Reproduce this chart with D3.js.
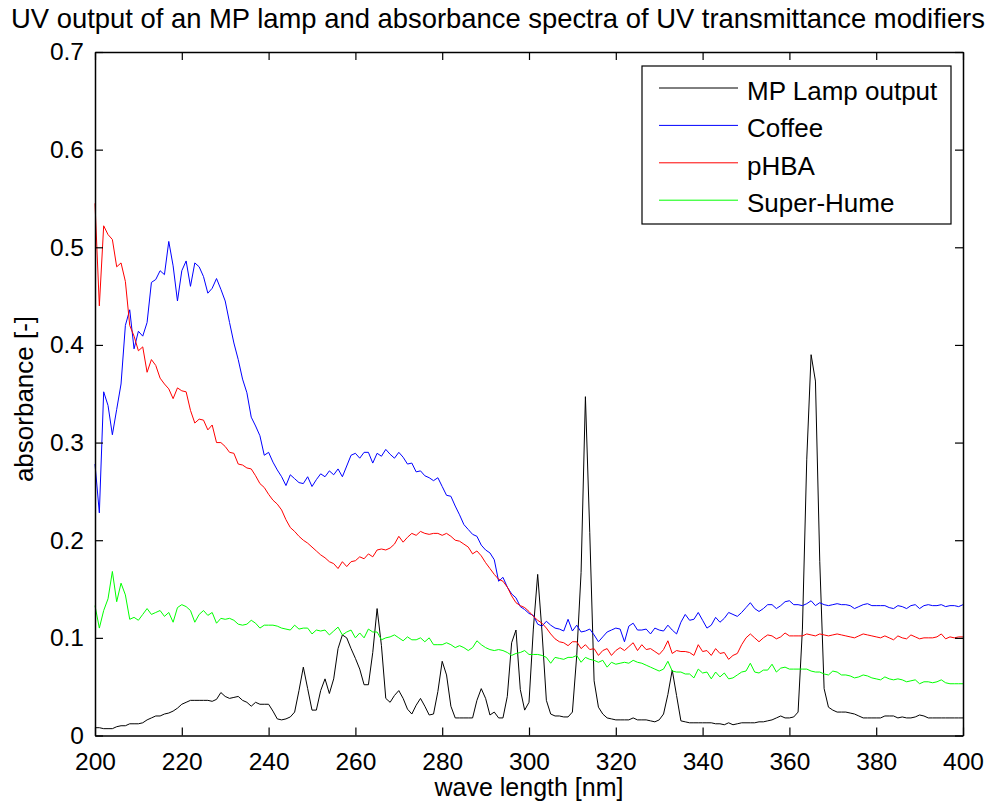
<!DOCTYPE html>
<html>
<head>
<meta charset="utf-8">
<script src="https://cdn.jsdelivr.net/npm/d3@7"></script>
<style>
  body { margin: 0; background: #fff; }
  text { font-family: "Liberation Sans", Arial, sans-serif; fill: #000; }
</style>
</head>
<body>
<div id="vis"></div>
<script>
// frame constants
const FRAME_WIDTH = 990;
const FRAME_HEIGHT = 805;
const MARGINS = {left: 95, right: 27, top: 52, bottom: 69.5};

const VIS_WIDTH = FRAME_WIDTH - MARGINS.left - MARGINS.right;
const VIS_HEIGHT = FRAME_HEIGHT - MARGINS.top - MARGINS.bottom;

// x categories: one sample per nm
const WAVELENGTHS = d3.range(200, 401);

// tick labels
const X_TICKS = [200, 220, 240, 260, 280, 300, 320, 340, 360, 380, 400];
const Y_TICKS = [0, 0.1, 0.2, 0.3, 0.4, 0.5, 0.6, 0.7];

// series names
const SERIES_NAMES = ["MP Lamp output", "Coffee", "pHBA", "Super-Hume"];

// MP lamp output
const LAMP = [
  0.008, 0.008, 0.007, 0.007, 0.007, 0.009, 0.010, 0.010, 0.012, 0.012,
  0.012, 0.013, 0.016, 0.018, 0.020, 0.020, 0.022, 0.023, 0.025, 0.028,
  0.032, 0.034, 0.036, 0.036, 0.036, 0.036, 0.036, 0.035, 0.037, 0.044,
  0.040, 0.038, 0.039, 0.040, 0.036, 0.034, 0.030, 0.034, 0.032, 0.032,
  0.032, 0.025, 0.017, 0.016, 0.017, 0.019, 0.024, 0.046, 0.070, 0.048,
  0.026, 0.026, 0.046, 0.058, 0.043, 0.058, 0.089, 0.103, 0.100, 0.089,
  0.079, 0.068, 0.052, 0.052, 0.085, 0.130, 0.092, 0.038, 0.034, 0.041,
  0.046, 0.038, 0.027, 0.022, 0.031, 0.038, 0.030, 0.021, 0.022, 0.045,
  0.076, 0.062, 0.030, 0.018, 0.018, 0.018, 0.018, 0.018, 0.036, 0.048,
  0.038, 0.021, 0.024, 0.018, 0.018, 0.040, 0.095, 0.108, 0.047, 0.026,
  0.034, 0.109, 0.165, 0.106, 0.036, 0.022, 0.020, 0.020, 0.019, 0.019,
  0.024, 0.082, 0.167, 0.347, 0.208, 0.056, 0.029, 0.022, 0.018, 0.017,
  0.016, 0.016, 0.016, 0.016, 0.018, 0.016, 0.016, 0.016, 0.015, 0.014,
  0.016, 0.022, 0.042, 0.067, 0.041, 0.015, 0.014, 0.013, 0.013, 0.013,
  0.013, 0.013, 0.013, 0.012, 0.012, 0.011, 0.013, 0.011, 0.012, 0.013,
  0.013, 0.013, 0.013, 0.014, 0.014, 0.015, 0.016, 0.018, 0.020, 0.018,
  0.018, 0.019, 0.024, 0.109, 0.283, 0.390, 0.363, 0.178, 0.048, 0.029,
  0.026, 0.024, 0.024, 0.024, 0.023, 0.022, 0.020, 0.018, 0.018, 0.018,
  0.018, 0.018, 0.020, 0.020, 0.020, 0.018, 0.019, 0.018, 0.018, 0.019,
  0.021, 0.020, 0.018, 0.018, 0.018, 0.018, 0.018, 0.018, 0.018, 0.018,
  0.018
];

// coffee absorbance
const COFFEE = [
  0.278, 0.228, 0.352, 0.338, 0.308, 0.334, 0.360, 0.420, 0.436, 0.396,
  0.414, 0.409, 0.423, 0.464, 0.467, 0.476, 0.472, 0.506, 0.481, 0.445,
  0.476, 0.486, 0.460, 0.484, 0.480, 0.470, 0.453, 0.458, 0.468, 0.457,
  0.445, 0.423, 0.402, 0.385, 0.365, 0.351, 0.326, 0.317, 0.307, 0.287,
  0.290, 0.280, 0.272, 0.265, 0.256, 0.267, 0.263, 0.259, 0.258, 0.265,
  0.255, 0.262, 0.268, 0.265, 0.271, 0.267, 0.273, 0.265, 0.276, 0.287,
  0.289, 0.284, 0.290, 0.290, 0.279, 0.289, 0.286, 0.293, 0.288, 0.284,
  0.290, 0.285, 0.278, 0.279, 0.270, 0.271, 0.266, 0.264, 0.261, 0.264,
  0.255, 0.246, 0.245, 0.235, 0.226, 0.216, 0.211, 0.206, 0.204, 0.195,
  0.190, 0.187, 0.180, 0.158, 0.162, 0.152, 0.145, 0.141, 0.132, 0.129,
  0.125, 0.123, 0.114, 0.112, 0.117, 0.113, 0.110, 0.109, 0.107, 0.119,
  0.107, 0.113, 0.106, 0.107, 0.109, 0.103, 0.096, 0.101, 0.106, 0.108,
  0.110, 0.109, 0.096, 0.112, 0.115, 0.108, 0.108, 0.109, 0.104, 0.110,
  0.108, 0.107, 0.113, 0.108, 0.104, 0.116, 0.124, 0.118, 0.119, 0.126,
  0.118, 0.110, 0.113, 0.121, 0.116, 0.120, 0.126, 0.124, 0.122, 0.126,
  0.131, 0.136, 0.130, 0.127, 0.130, 0.134, 0.134, 0.130, 0.133, 0.137,
  0.138, 0.134, 0.134, 0.133, 0.135, 0.138, 0.133, 0.136, 0.134, 0.133,
  0.134, 0.135, 0.134, 0.134, 0.133, 0.130, 0.132, 0.134, 0.135, 0.133,
  0.133, 0.133, 0.133, 0.131, 0.130, 0.133, 0.132, 0.130, 0.133, 0.134,
  0.130, 0.133, 0.134, 0.133, 0.133, 0.134, 0.132, 0.133, 0.133, 0.132,
  0.134
];

// pHBA absorbance
const PHBA = [
  0.545, 0.440, 0.522, 0.513, 0.508, 0.480, 0.484, 0.465, 0.420, 0.409,
  0.394, 0.398, 0.372, 0.385, 0.379, 0.366, 0.360, 0.355, 0.345, 0.356,
  0.353, 0.352, 0.333, 0.320, 0.324, 0.323, 0.313, 0.318, 0.300, 0.300,
  0.296, 0.290, 0.289, 0.278, 0.277, 0.274, 0.273, 0.266, 0.258, 0.254,
  0.247, 0.241, 0.237, 0.231, 0.221, 0.213, 0.209, 0.204, 0.200, 0.197,
  0.193, 0.189, 0.185, 0.182, 0.178, 0.176, 0.171, 0.178, 0.173, 0.178,
  0.179, 0.183, 0.181, 0.186, 0.183, 0.190, 0.191, 0.190, 0.192, 0.196,
  0.204, 0.198, 0.203, 0.207, 0.205, 0.209, 0.207, 0.206, 0.207, 0.207,
  0.205, 0.207, 0.204, 0.200, 0.199, 0.196, 0.193, 0.186, 0.189, 0.184,
  0.177, 0.171, 0.165, 0.160, 0.158, 0.152, 0.143, 0.136, 0.133, 0.131,
  0.127, 0.122, 0.118, 0.115, 0.110, 0.104, 0.099, 0.096, 0.095, 0.092,
  0.096, 0.096, 0.089, 0.093, 0.088, 0.089, 0.082, 0.087, 0.089, 0.082,
  0.087, 0.090, 0.087, 0.091, 0.095, 0.087, 0.093, 0.088, 0.089, 0.086,
  0.083, 0.088, 0.097, 0.084, 0.087, 0.086, 0.086, 0.085, 0.082, 0.093,
  0.086, 0.087, 0.082, 0.089, 0.084, 0.085, 0.078, 0.082, 0.084, 0.093,
  0.100, 0.104, 0.100, 0.096, 0.100, 0.103, 0.102, 0.099, 0.101, 0.105,
  0.102, 0.102, 0.102, 0.102, 0.104, 0.103, 0.102, 0.104, 0.103, 0.102,
  0.103, 0.104, 0.103, 0.102, 0.101, 0.100, 0.102, 0.104, 0.103, 0.102,
  0.101, 0.100, 0.102, 0.100, 0.098, 0.102, 0.100, 0.099, 0.103, 0.101,
  0.099, 0.100, 0.100, 0.100, 0.101, 0.104, 0.099, 0.101, 0.100, 0.101,
  0.101
];

// Super-Hume absorbance
const SUPERHUME = [
  0.133, 0.110, 0.128, 0.140, 0.168, 0.137, 0.156, 0.144, 0.119, 0.121,
  0.118, 0.124, 0.130, 0.124, 0.126, 0.128, 0.122, 0.126, 0.116, 0.131,
  0.134, 0.132, 0.128, 0.116, 0.124, 0.128, 0.123, 0.126, 0.115, 0.120,
  0.119, 0.120, 0.118, 0.114, 0.113, 0.114, 0.118, 0.115, 0.110, 0.113,
  0.113, 0.113, 0.112, 0.110, 0.109, 0.108, 0.113, 0.109, 0.110, 0.110,
  0.104, 0.108, 0.107, 0.108, 0.103, 0.107, 0.111, 0.103, 0.106, 0.108,
  0.100, 0.105, 0.100, 0.109, 0.106, 0.106, 0.098, 0.100, 0.101, 0.103,
  0.100, 0.097, 0.101, 0.098, 0.098, 0.100, 0.096, 0.100, 0.093, 0.093,
  0.093, 0.095, 0.093, 0.090, 0.092, 0.090, 0.087, 0.090, 0.097, 0.093,
  0.090, 0.088, 0.087, 0.088, 0.087, 0.085, 0.082, 0.084, 0.085, 0.087,
  0.083, 0.083, 0.083, 0.082, 0.080, 0.074, 0.080, 0.079, 0.078, 0.080,
  0.080, 0.082, 0.075, 0.080, 0.078, 0.077, 0.075, 0.077, 0.070, 0.075,
  0.073, 0.074, 0.075, 0.074, 0.077, 0.075, 0.074, 0.072, 0.070, 0.068,
  0.066, 0.068, 0.076, 0.066, 0.065, 0.065, 0.063, 0.063, 0.059, 0.068,
  0.064, 0.065, 0.058, 0.065, 0.060, 0.064, 0.058, 0.059, 0.062, 0.065,
  0.066, 0.074, 0.065, 0.064, 0.067, 0.067, 0.073, 0.065, 0.069, 0.070,
  0.068, 0.068, 0.068, 0.068, 0.068, 0.066, 0.065, 0.065, 0.063, 0.062,
  0.066, 0.065, 0.062, 0.062, 0.061, 0.059, 0.060, 0.062, 0.061, 0.059,
  0.058, 0.057, 0.060, 0.058, 0.057, 0.058, 0.057, 0.055, 0.056, 0.057,
  0.053, 0.055, 0.055, 0.054, 0.055, 0.057, 0.054, 0.053, 0.053, 0.053,
  0.053
];

const SERIES = [LAMP, COFFEE, PHBA, SUPERHUME];
const COLORS = ["#000000", "#0000ff", "#ff0000", "#00ff00"];

// frame
const FRAME = d3.select("#vis").append("svg")
                .attr("width", FRAME_WIDTH)
                .attr("height", FRAME_HEIGHT);

FRAME.append("rect")
     .attr("width", FRAME_WIDTH)
     .attr("height", FRAME_HEIGHT)
     .attr("fill", "#fff");

// scales
const X_SCALE = d3.scaleLinear().domain([200, 400]).range([0, VIS_WIDTH]);
const Y_SCALE = d3.scaleLinear().domain([0, 0.7]).range([VIS_HEIGHT, 0]);

const PLOT = FRAME.append("g")
                  .attr("transform", "translate(" + MARGINS.left + "," + MARGINS.top + ")");

// data lines
const LINE = d3.line()
               .x((d, i) => X_SCALE(WAVELENGTHS[i]))
               .y((d) => Y_SCALE(d));

PLOT.selectAll(".series")
    .data(SERIES)
    .enter()
    .append("path")
      .attr("class", "series")
      .attr("d", (d) => LINE(d))
      .attr("fill", "none")
      .attr("stroke", (d, i) => COLORS[i])
      .attr("stroke-width", 1);

// axes, MATLAB style: ticks inward on all four sides
const TICK = 8;

const xBottom = PLOT.append("g")
    .attr("transform", "translate(0," + VIS_HEIGHT + ")")
    .call(d3.axisBottom(X_SCALE).tickValues(X_TICKS)
            .tickSizeInner(-TICK).tickSizeOuter(0).tickPadding(17)
            .tickFormat(d3.format("d")));

const xTop = PLOT.append("g")
    .call(d3.axisTop(X_SCALE).tickValues(X_TICKS)
            .tickSizeInner(-TICK).tickSizeOuter(0).tickFormat(""));

const yLeft = PLOT.append("g")
    .call(d3.axisLeft(Y_SCALE).tickValues(Y_TICKS)
            .tickSizeInner(-TICK).tickSizeOuter(0).tickPadding(11)
            .tickFormat((d) => d === 0 ? "0" : d3.format(".1f")(d)));

const yRight = PLOT.append("g")
    .attr("transform", "translate(" + VIS_WIDTH + ",0)")
    .call(d3.axisRight(Y_SCALE).tickValues(Y_TICKS)
            .tickSizeInner(-TICK).tickSizeOuter(0).tickFormat(""));

[xBottom, xTop, yLeft, yRight].forEach((g) => {
  g.select(".domain").attr("stroke", "#000").attr("stroke-width", 1.5);
  g.selectAll(".tick line").attr("stroke", "#000").attr("stroke-width", 1.2);
  g.selectAll("text").attr("font-size", "24.5px")
   .attr("font-family", "'Liberation Sans', Arial, sans-serif").attr("fill", "#000");
});

// legend
const LEGEND = {x: 642, y: 66, w: 309, h: 158};
const LEG = FRAME.append("g");

LEG.append("rect")
   .attr("x", LEGEND.x).attr("y", LEGEND.y)
   .attr("width", LEGEND.w).attr("height", LEGEND.h)
   .attr("fill", "#fff").attr("stroke", "#000").attr("stroke-width", 1.2);

LEG.selectAll(".legline")
   .data(SERIES_NAMES)
   .enter()
   .append("line")
     .attr("x1", 659).attr("x2", 738)
     .attr("y1", (d, i) => 88 + i * 37.4)
     .attr("y2", (d, i) => 88 + i * 37.4)
     .attr("stroke", (d, i) => COLORS[i])
     .attr("stroke-width", 1);

LEG.selectAll(".legtext")
   .data(SERIES_NAMES)
   .enter()
   .append("text")
     .attr("x", 747)
     .attr("y", (d, i) => 100 + i * 37.4)
     .attr("font-size", "26px")
     .text((d) => d);

// title and axis labels
FRAME.append("text")
     .attr("x", 498).attr("y", 28)
     .attr("text-anchor", "middle")
     .attr("font-size", "27.4px")
     .text("UV output of an MP lamp and absorbance spectra of UV transmittance modifiers");

FRAME.append("text")
     .attr("x", MARGINS.left + VIS_WIDTH / 2).attr("y", 796)
     .attr("text-anchor", "middle")
     .attr("font-size", "25px")
     .text("wave length [nm]");

FRAME.append("text")
     .attr("transform", "translate(33,399) rotate(-90)")
     .attr("text-anchor", "middle")
     .attr("font-size", "26px")
     .text("absorbance [-]");
</script>
</body>
</html>
